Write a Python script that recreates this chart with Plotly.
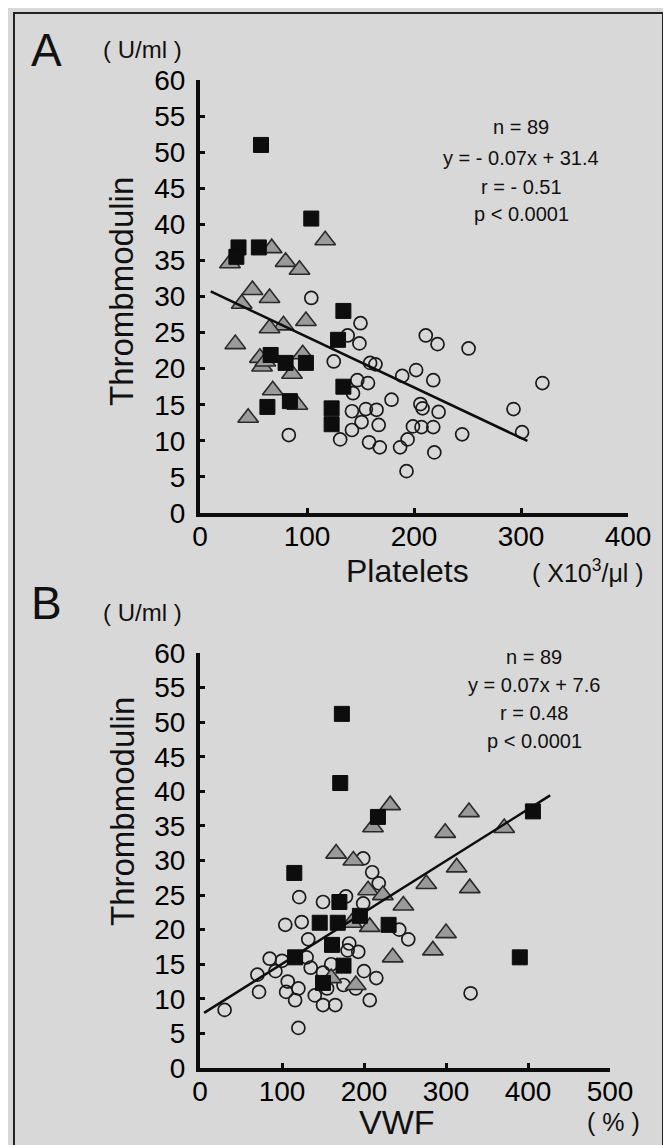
import plotly.graph_objects as go

W, H = 671, 1145
BG = "#d8d8d8"
FONT = "Liberation Sans, Arial, sans-serif"
OFF = 8  # page body margin offset compensation

# ---------------- Panel A data: Platelets vs Thrombomodulin ----------------
a_sq_x = [57, 104, 36, 34, 55, 134, 129, 66, 80, 99, 134, 63, 84, 123, 123]
a_sq_y = [51, 40.8, 36.8, 35.5, 36.8, 28, 24, 21.9, 20.8, 20.8, 17.5, 14.7, 15.5, 14.5, 12.3]

a_tri_x = [117, 67, 28, 80, 93, 49, 65, 39, 99, 78, 65, 33, 96, 56, 58, 86, 68, 91, 45, 61]
a_tri_y = [37.8, 36.7, 34.6, 34.8, 33.7, 30.9, 29.8, 29, 26.6, 26, 25.6, 23.4, 22, 21.5, 20.3, 19.3, 17, 15, 13.2, 21]

a_cir_x = [104, 150, 138, 149, 211, 222, 251, 125, 159, 164, 202, 189, 218, 147, 157, 320,
           143, 179, 206, 142, 155, 165, 208, 223, 293, 151, 167, 199, 207, 218, 142, 83,
           131, 158, 168, 187, 194, 245, 301, 219, 193]
a_cir_y = [29.8, 26.3, 24.6, 23.5, 24.6, 23.4, 22.8, 21, 20.8, 20.6, 19.8, 19, 18.4, 18.4, 18, 18,
           16.6, 15.7, 15.1, 14.1, 14.4, 14.3, 14.5, 14, 14.4, 12.6, 12.2, 12, 11.9, 11.9, 11.5, 10.8,
           10.2, 9.8, 9.1, 9.1, 10.2, 10.9, 11.2, 8.4, 5.8]

a_fit = (-0.07, 31.4)
a_fit_x = [10, 306]
a_text = ["n = 89", "y = - 0.07x + 31.4", "r = - 0.51", "p < 0.0001"]

# ---------------- Panel B data: VWF vs Thrombomodulin ----------------
b_sq_x = [173, 171, 217, 115, 170, 146, 168, 195, 230, 161, 116, 406, 390, 150, 175]
b_sq_y = [51.2, 41.2, 36.3, 28.2, 24, 21, 21, 22, 20.7, 17.8, 16, 37.1, 16, 12.3, 14.8]

b_tri_x = [232, 328, 211, 299, 166, 187, 313, 276, 329, 205, 223, 248, 207, 185, 300, 284, 235, 371, 160, 190]
b_tri_y = [38, 37, 34.8, 34, 31, 30, 29, 26.6, 26, 25.7, 25, 23.5, 20.4, 21, 19.5, 17, 16, 34.7, 13, 12]

b_cir_x = [199, 210, 218, 121, 150, 178, 199, 104, 124, 243, 254, 132, 182, 193, 85,
           30, 120, 150, 165, 207, 116, 70, 92, 107, 120, 135, 150, 175, 190, 200, 140,
           160, 215, 130, 105, 330, 72, 180, 100, 155]
b_cir_y = [30.3, 28.3, 26.7, 24.7, 24, 24.8, 23.8, 20.7, 21.1, 20, 18.6, 18.6, 18, 16.8, 15.8,
           8.4, 5.8, 9.1, 9.1, 9.8, 9.8, 13.5, 14, 12.5, 11.5, 14.5, 13.8, 12, 11.5, 14, 10.5,
           15, 13, 16, 11, 10.8, 11, 17, 15.5, 11.5]

b_fit = (0.0745, 7.6)
b_fit_x = [5, 427]
b_text = ["n = 89", "y = 0.07x + 7.6", "r = 0.48", "p < 0.0001"]

# ---------------- figure ----------------
fig = go.Figure()

def px_x(p):
    return (p - OFF) / W

def px_y(p):
    return 1 - (p - OFF) / H

A_X = (200, 628)
A_Y = (80, 513)
B_X = (200, 610)
B_Y = (653, 1068)

sq_style = dict(symbol="square", size=15, color="#0d0d0d", line=dict(color="#0d0d0d", width=1))
tri_style = dict(symbol="triangle-up", size=18, color="#9a9a9a", line=dict(color="#2a2a2a", width=1.6))
cir_style = dict(symbol="circle-open", size=13, color="#1a1a1a", line=dict(color="#1a1a1a", width=1.7))

def add_panel(xa, ya, cx, cy, tx, ty, sx, sy, fit, fitx):
    fig.add_trace(go.Scatter(x=cx, y=cy, mode="markers", marker=cir_style, xaxis=xa, yaxis=ya, showlegend=False))
    fig.add_trace(go.Scatter(x=tx, y=ty, mode="markers", marker=tri_style, xaxis=xa, yaxis=ya, showlegend=False))
    fig.add_trace(go.Scatter(x=sx, y=sy, mode="markers", marker=sq_style, xaxis=xa, yaxis=ya, showlegend=False))
    ly = [fit[0] * v + fit[1] for v in fitx]
    fig.add_trace(go.Scatter(x=fitx, y=ly, mode="lines", line=dict(color="#0d0d0d", width=2.5),
                             xaxis=xa, yaxis=ya, showlegend=False))

add_panel("x", "y", a_cir_x, a_cir_y, a_tri_x, a_tri_y, a_sq_x, a_sq_y, a_fit, a_fit_x)
add_panel("x2", "y2", b_cir_x, b_cir_y, b_tri_x, b_tri_y, b_sq_x, b_sq_y, b_fit, b_fit_x)

tickfont = dict(family=FONT, size=28, color="#000000")
common_x = dict(showline=True, linewidth=4, linecolor="#0d0d0d", ticks="inside", ticklen=5,
                tickwidth=3, tickcolor="#0d0d0d", showgrid=False, zeroline=False,
                tickfont=tickfont, ticklabelstandoff=-5, automargin=False)
common_y = dict(showline=True, linewidth=4, linecolor="#0d0d0d", ticks="inside", ticklen=5,
                tickwidth=3, tickcolor="#0d0d0d", showgrid=False, zeroline=False,
                tickfont=tickfont, range=[0, 60], tickvals=list(range(0, 61, 5)),
                ticklabelstandoff=5, automargin=False)

fig.update_layout(
    template="none",
    width=W, height=H,
    margin=dict(l=0, r=0, t=0, b=0, pad=0),
    paper_bgcolor=BG, plot_bgcolor=BG,
    xaxis=dict(domain=[px_x(A_X[0]), px_x(A_X[1])], range=[0, 400], tickvals=[0, 100, 200, 300, 400],
               anchor="y", **common_x),
    yaxis=dict(domain=[px_y(A_Y[1]), px_y(A_Y[0])], anchor="x", **common_y),
    xaxis2=dict(domain=[px_x(B_X[0]), px_x(B_X[1])], range=[0, 500], tickvals=[0, 100, 200, 300, 400, 500],
                anchor="y2", **common_x),
    yaxis2=dict(domain=[px_y(B_Y[1]), px_y(B_Y[0])], anchor="x2", **common_y),
)

def ann(text, x, y, size, angle=0, xanchor="center"):
    fig.add_annotation(text=text, x=px_x(x), y=px_y(y), xref="paper", yref="paper",
                       showarrow=False, textangle=angle, xanchor=xanchor, yanchor="middle",
                       font=dict(family=FONT, size=size, color="#111111"))

ann("A", 46, 50, 46)
ann("( U/ml )", 142, 50, 24)
ann("B", 46, 603, 46)
ann("( U/ml )", 142, 612, 24)

ann("Thrombmodulin", 122, 292, 33, angle=-90)
ann("Thrombmodulin", 122, 812, 33, angle=-90)
ann("Platelets", 407, 571, 32)
ann("( X10<sup>3</sup>/μl )", 588, 571, 25)
ann("VWF", 397, 1122, 34)
ann("( % )", 613, 1122, 25)

for i, t in enumerate(a_text):
    ann(t, 521, [127, 158, 187, 214][i], 20)
for i, t in enumerate(b_text):
    ann(t, 534, [657, 685, 713, 741][i], 20)

fig.add_shape(type="rect", xref="paper", yref="paper", x0=px_x(14), x1=px_x(663), y0=-0.02, y1=px_y(13),
              line=dict(color="#222222", width=2), fillcolor="rgba(0,0,0,0)", layer="below")

fig.write_html("out.html")
